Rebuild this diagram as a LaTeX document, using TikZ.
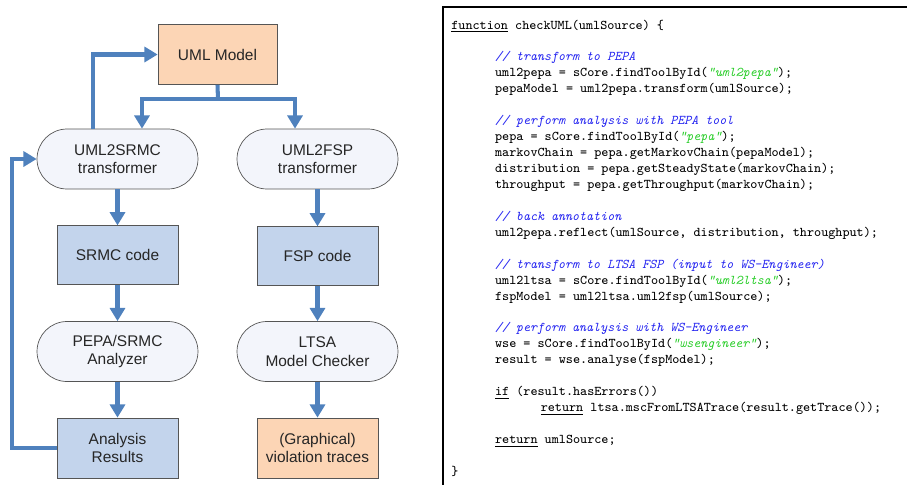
\documentclass[tikz,border=0pt]{standalone}
\usepackage{fontspec}
\setsansfont{Liberation Sans}
\usepackage{xcolor}
\usetikzlibrary{arrows.meta, positioning, calc}
\definecolor{FlowBlue}{RGB}{79, 129, 189}
\definecolor{CodeFill}{RGB}{195, 212, 236}
\definecolor{ModelFill}{RGB}{252, 213, 181}
\definecolor{PillFill}{RGB}{243, 245, 251}
\definecolor{EdgeGray}{RGB}{85, 85, 85}
\definecolor{CmtBlue}{RGB}{35, 35, 240}
\definecolor{StrGreen}{RGB}{40, 205, 40}
\newcommand{\cmt}[1]{{\color{CmtBlue}\itshape #1}}
\newcommand{\strlit}[1]{{\color{StrGreen}\itshape "#1"}}
\newcommand{\kw}[1]{\underline{#1}}
\newcommand{\codeind}{\hspace*{24.9pt}}

\begin{document}
\begin{tikzpicture}[x=0.02cm,y=-0.02cm,
	pill/.style={rectangle,rounded corners=0.6cm,draw=EdgeGray,fill=PillFill,minimum width=3.22cm,minimum height=1.2cm,align=center,font=\sffamily\fontsize{8.8}{10.6}\selectfont,text=black!85},
	codebox/.style={rectangle,draw=EdgeGray,fill=CodeFill,minimum width=2.42cm,minimum height=1.17cm,align=center,font=\sffamily\fontsize{8.8}{10.6}\selectfont,text=black!85},
	modelbox/.style={codebox,fill=ModelFill,minimum height=1.2cm},
	flow/.style={draw=FlowBlue,line width=2.3pt,-{Triangle[length=7.5pt,width=8.5pt]}},
	flowline/.style={draw=FlowBlue,line width=2.3pt}]
\useasboundingbox (0,0) rectangle (907,484);
% toolchain
\node[modelbox,minimum width=2.38cm] (uml) at (217.5,54.5) {UML Model};
\node[pill] (srmctr) at (117.5,159) {UML2SRMC\\transformer};
\node[pill] (fsptr)  at (317.5,159) {UML2FSP\\transformer};
\node[codebox] (srmc) at (117.5,255) {SRMC code};
\node[codebox] (fsp)  at (317.5,256) {FSP code};
\node[pill] (pepa) at (117.5,351.5) {PEPA/SRMC\\Analyzer};
\node[pill] (ltsa) at (317.5,351.5) {LTSA\\Model Checker};
\node[codebox,minimum height=1.2cm] (results) at (117.5,448) {Analysis\\Results};
\node[modelbox] (traces) at (317.5,448) {(Graphical)\\violation traces};
\coordinate (split) at (218,99);
\draw[flowline] (uml.south) -- (split);
\draw[flow] (split) -| ([xshift=0.49cm]srmctr.north);
\draw[flow] (split) -| ([xshift=-0.45cm]fsptr.north);
\draw[flow] ([xshift=-0.49cm]srmctr.north) |- (uml.west);
\draw[flow] (srmctr) -- (srmc);
\draw[flow] (srmc) -- (pepa);
\draw[flow] (pepa) -- (results);
\draw[flow] (fsptr) -- (fsp);
\draw[flow] (fsp) -- (ltsa);
\draw[flow] (ltsa) -- (traces);
\draw[flow] (results.west) -- ++(-45,0) |- (srmctr.west);
% script listing
\draw[line width=1.7pt] (443,490) |- (912,7);
\node[anchor=north west,inner sep=0pt,align=left,font=\ttfamily\fontsize{7.6}{9.07}\selectfont] (script) at (451,19.5) {%
\kw{function} checkUML(umlSource) \{\\[9.07pt]
\codeind\cmt{// transform to PEPA}\\
\codeind uml2pepa = sCore.findToolById(\strlit{uml2pepa});\\
\codeind pepaModel = uml2pepa.transform(umlSource);\\[9.07pt]
\codeind\cmt{// perform analysis with PEPA tool}\\
\codeind pepa = sCore.findToolById(\strlit{pepa});\\
\codeind markovChain = pepa.getMarkovChain(pepaModel);\\
\codeind distribution = pepa.getSteadyState(markovChain);\\
\codeind throughput = pepa.getThroughput(markovChain);\\[9.07pt]
\codeind\cmt{// back annotation}\\
\codeind uml2pepa.reflect(umlSource, distribution, throughput);\\[9.07pt]
\codeind\cmt{// transform to LTSA FSP (input to WS-Engineer)}\\
\codeind uml2ltsa = sCore.findToolById(\strlit{uml2ltsa});\\
\codeind fspModel = uml2ltsa.uml2fsp(umlSource);\\[9.07pt]
\codeind\cmt{// perform analysis with WS-Engineer}\\
\codeind wse = sCore.findToolById(\strlit{wsengineer});\\
\codeind result = wse.analyse(fspModel);\\[9.07pt]
\codeind\kw{if} (result.hasErrors())\\
\codeind\hspace*{26pt}\kw{return} ltsa.mscFromLTSATrace(result.getTrace());\\[9.07pt]
\codeind\kw{return} umlSource;\\[9.07pt]
\}};
\end{tikzpicture}
\end{document}
